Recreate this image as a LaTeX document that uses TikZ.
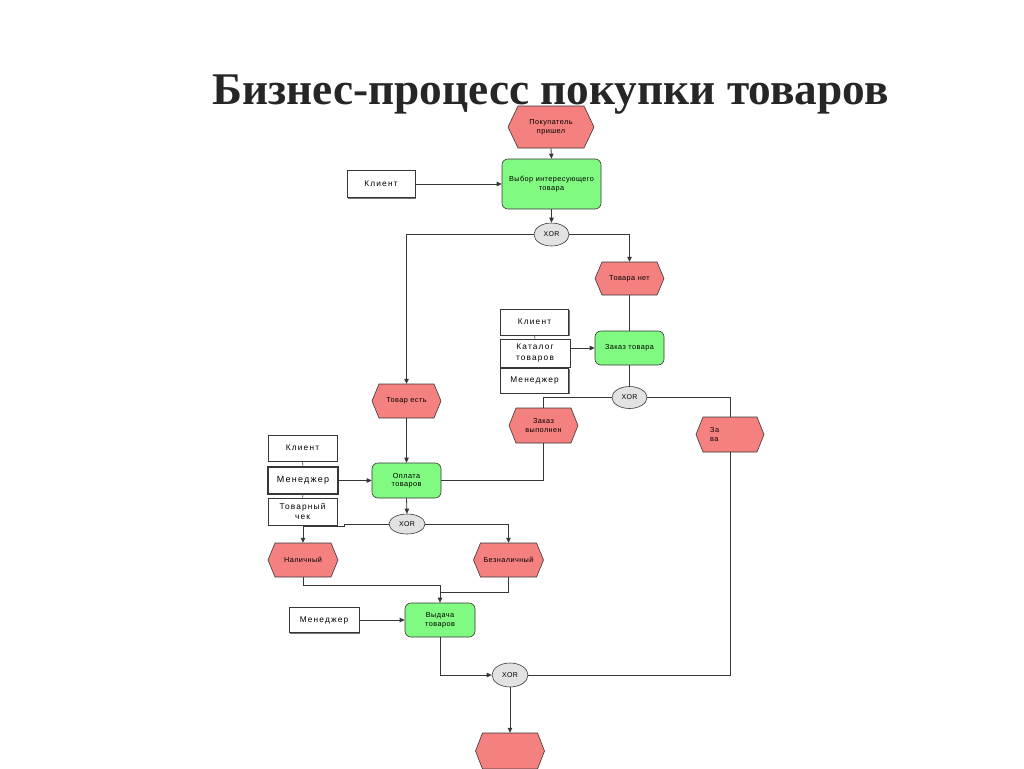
\documentclass[tikz,border=0pt]{standalone}
\usepackage{fontspec}
\setmainfont{Liberation Serif}
\newfontfamily\diafont[LetterSpace=6]{Liberation Sans}
\newfontfamily\orgfont[LetterSpace=14]{Liberation Sans}
\usetikzlibrary{arrows.meta,shadows,calc,shapes.geometric}
\definecolor{evfill}{RGB}{245,128,128}
\definecolor{fnfill}{RGB}{128,250,128}
\definecolor{xorfill}{RGB}{226,226,226}
\definecolor{lncol}{RGB}{55,55,55}
\definecolor{titlecol}{RGB}{38,38,38}
\tikzset{
  evshape/.style={fill=evfill, draw=lncol, line width=0.6pt},
  evtext/.style={inner sep=0pt, align=center, font=\diafont\fontsize{7.3}{8.5}\selectfont},
  fnbox/.style={rectangle, rounded corners=6pt, fill=fnfill, draw=lncol, line width=0.6pt,
     inner sep=0pt, align=center, font=\diafont\fontsize{7.3}{8.5}\selectfont},
  xorell/.style={ellipse, fill=xorfill, draw=lncol, line width=0.6pt, inner sep=0pt,
     font=\diafont\fontsize{7}{8}\selectfont},
  orgbox/.style={rectangle, fill=white, draw=lncol, line width=0.7pt, inner sep=0pt, align=center,
     font=\orgfont\fontsize{8.3}{10.5}\selectfont,
     drop shadow={shadow xshift=1.2pt, shadow yshift=-1.2pt, fill=black!55, opacity=1}},
  conn/.style={draw=lncol, line width=0.8pt},
  arr/.style={conn, -{Triangle[length=5pt,width=4.5pt]}},
}
\newcommand\evhex[7]{%
  \path[evshape] (#2-#4/2,#3) -- (#2-#4/2+#6,#3-#5/2) -- (#2+#4/2-#6,#3-#5/2) -- (#2+#4/2,#3)
     -- (#2+#4/2-#6,#3+#5/2) -- (#2-#4/2+#6,#3+#5/2) -- cycle;
  \node[evtext, minimum width=#4, minimum height=#5] (#1) at (#2,#3) {#7};}
\begin{document}
\begin{tikzpicture}[x=1pt,y=-1pt]
\useasboundingbox (0,0) rectangle (1024,768);
\clip (0,0) rectangle (1024,768);
\fill[white] (0,0) rectangle (1024,768);

% title
\node[anchor=base, text=titlecol, font=\bfseries\fontsize{45.3}{52}\selectfont, inner sep=0pt] (title) at (550.5,104) {Бизнес-процесс покупки товаров};

% events
\evhex{e1}{551}{127}{86}{42}{10}{Покупатель\\пришел}
\evhex{e2}{629.5}{278.5}{69}{33}{7}{Товара нет}
\evhex{e3}{406.5}{401}{69}{34}{7}{Товар есть}
\evhex{e4}{543.5}{425.5}{69}{35}{7}{Заказ\\выполнен}
\evhex{e5}{730}{434.5}{68}{35}{7}{}
\evhex{e6}{303}{560}{70}{34}{7}{Наличный}
\evhex{e7}{508.5}{560}{70}{34}{7}{Безналичный}
\evhex{e8}{510}{751}{69}{36}{7}{}
\node[evtext, align=left, anchor=west] (e5t) at (710,434.5) {За\\ва};

% functions
\node[fnbox, minimum width=99, minimum height=50] (f1) at (551.5,184) {Выбор интересующего\\товара};
\node[fnbox, minimum width=69, minimum height=34] (f2) at (629.5,348) {Заказ товара};
\node[fnbox, minimum width=69, minimum height=35] (f3) at (406.5,480.5) {Оплата\\товаров};
\node[fnbox, minimum width=70, minimum height=34] (f4) at (440,620) {Выдача\\товаров};

% XOR connectors
\node[xorell, minimum width=35, minimum height=23] (x1) at (551.5,234.5) {XOR};
\node[xorell, minimum width=35, minimum height=22] (x2) at (629.5,397.5) {XOR};
\node[xorell, minimum width=36, minimum height=20] (x3) at (407,524) {XOR};
\node[xorell, minimum width=36, minimum height=24] (x4) at (510,675) {XOR};

% organisational units
\node[orgbox, minimum width=68, minimum height=27] (o1) at (381,184) {Клиент};
\node[orgbox, minimum width=68, minimum height=26] (o2) at (534.5,322) {Клиент};
\node[orgbox, minimum width=70, minimum height=28] (o3) at (535,353) {Каталог\\товаров};
\node[orgbox, minimum width=68, minimum height=25] (o4) at (534.5,380.5) {Менеджер};
\node[orgbox, minimum width=69, minimum height=26] (o5) at (302.5,448) {Клиент};
\node[orgbox, minimum width=70, minimum height=27, line width=1.1pt, font=\orgfont\fontsize{9}{11}\selectfont] (o6) at (303,480.5) {Менеджер};
\node[orgbox, minimum width=69, minimum height=27] (o7) at (302.5,511.5) {Товарный\\чек};
\node[orgbox, minimum width=70, minimum height=25] (o8) at (324,620) {Менеджер};

% links inside org groups
\draw[conn, line width=0.6pt] (o2.south) -- (o3.north);
\draw[conn, line width=0.6pt] (o3.south) -- (o4.north);
\draw[conn, line width=0.6pt] (o5.south) -- (o6.north);
\draw[conn, line width=0.6pt] (o6.south) -- (o7.north);

% flow
\draw[arr] (e1.south) -- (f1.north);
\draw[arr] (o1.east) -- (f1.west);
\draw[arr] (f1.south) -- (x1.north);
\draw[arr] (x1.west) -| (e3.north);
\draw[arr] (x1.east) -| (e2.north);
\draw[conn] (e2.south) -- (f2.north);
\draw[arr] (o3.east |- f2.west) -- (f2.west);
\draw[conn] (f2.south) -- (x2.north);
\draw[conn] (x2.west) -| (e4.north);
\draw[conn] (x2.east) -| (e5.north);
\draw[conn] (e4.south) |- (f3.east);
\draw[arr] (e3.south) -- (f3.north);
\draw[arr] (o6.east) -- (f3.west);
\draw[arr] (f3.south) -- (x3.north);
\draw[arr] (x3.west) -- ++(-44,0) -- ++(0,2) -| (e6.north);
\draw[arr] (x3.east) -| (e7.north);
\draw[arr] (e6.south) |- ($(f4.north)+(0,-17)$) -- (f4.north);
\draw[conn] (e7.south) |- ($(f4.north)+(0,-10)$);
\draw[arr] (o8.east) -- (f4.west);
\draw[arr] (f4.south) |- (x4.west);
\draw[conn] (x4.east) -| (e5.south);
\draw[arr] (x4.south) -- (e8.north);
\end{tikzpicture}
\end{document}
